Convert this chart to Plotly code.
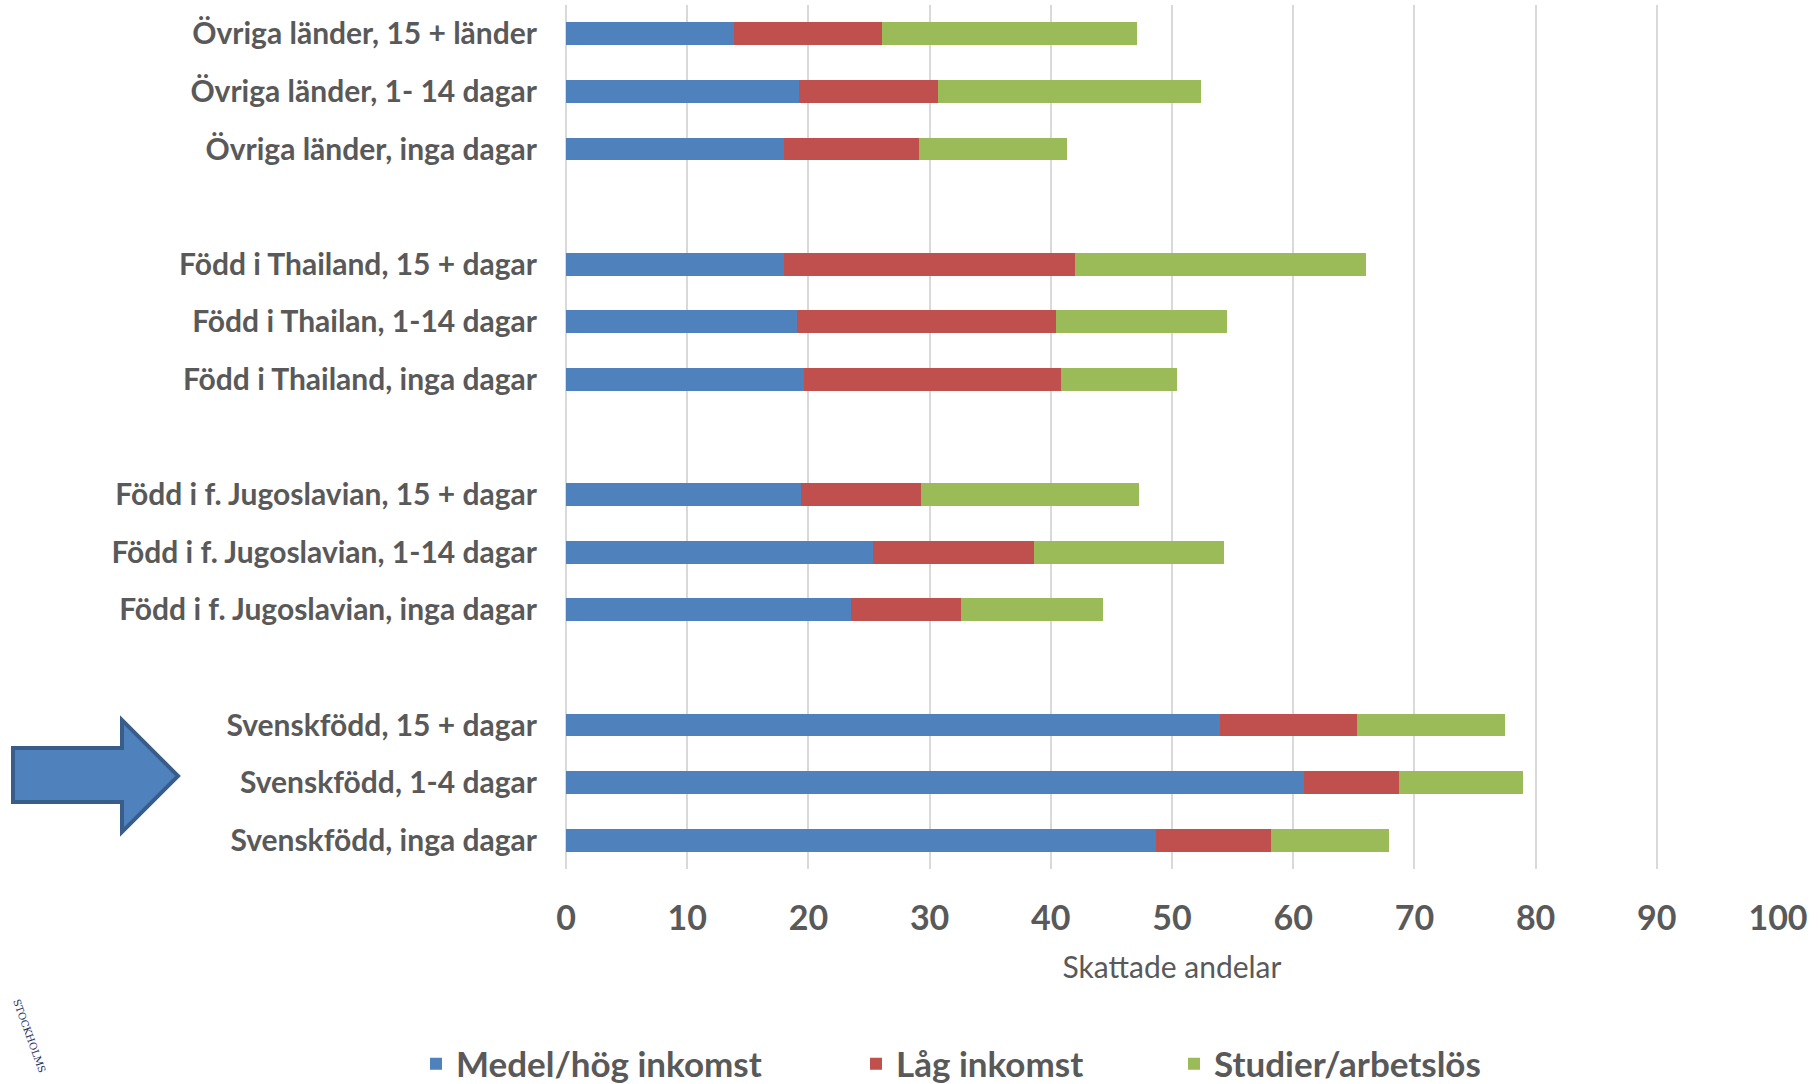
import plotly.graph_objects as go

categories = [
    "Övriga länder, 15 + länder",
    "Övriga länder, 1- 14 dagar",
    "Övriga länder, inga dagar",
    "Född i Thailand, 15 + dagar",
    "Född i Thailan, 1-14 dagar",
    "Född i Thailand, inga dagar",
    "Född i f. Jugoslavian, 15 + dagar",
    "Född i f. Jugoslavian, 1-14 dagar",
    "Född i f. Jugoslavian, inga dagar",
    "Svenskfödd, 15 + dagar",
    "Svenskfödd, 1-4 dagar",
    "Svenskfödd, inga dagar",
]
medel_hog = [13.9, 19.2, 18.0, 18.0, 19.1, 19.6, 19.4, 25.3, 23.5, 54.0, 60.9, 48.7]
lag = [12.2, 11.5, 11.1, 24.0, 21.3, 21.2, 9.9, 13.3, 9.1, 11.3, 7.8, 9.5]
studier = [21.0, 21.7, 12.2, 24.0, 14.1, 9.6, 18.0, 15.7, 11.7, 12.2, 10.3, 9.7]
series_names = ["Medel/hög inkomst", "Låg inkomst", "Studier/arbetslös"]
colors = ["#4F81BD", "#C0504D", "#9BBB59"]
x_ticks = [0, 10, 20, 30, 40, 50, 60, 70, 80, 90, 100]

# insert blank spacer rows between groups of three
y_cats, idx_map = [], []
for i, c in enumerate(categories):
    if i > 0 and i % 3 == 0:
        y_cats.append(" " * (i // 3))
        idx_map.append(None)
    y_cats.append(c)
    idx_map.append(i)

def expand(vals):
    return [None if k is None else vals[k] for k in idx_map]

W, H = 1820, 1084
ML, MR, MT, MB = 566, 42, 5, 215
PW, PH = W - ML - MR, H - MT - MB

fig = go.Figure()
legend_ids = ["legend", "legend2", "legend3"]
for name, vals, col, lg in zip(series_names, [medel_hog, lag, studier], colors, legend_ids):
    fig.add_trace(go.Bar(
        y=y_cats, x=expand(vals), name=name, orientation="h",
        marker=dict(color=col, line=dict(width=0)), legend=lg,
    ))

font_main = "Lato"
gray = "#595959"

def px2paper(px, py):
    return (px - ML) / PW, 1 - (py - MT) / PH

# arrow decoration (pixel outline of the reference arrow)
arrow_px = [(13, 748), (122, 748), (122, 720), (178, 776), (122, 832), (122, 802), (13, 802)]
pts = [px2paper(a, b) for a, b in arrow_px]
path = "M " + " L ".join(f"{a:.5f},{b:.5f}" for a, b in pts) + " Z"

legend_common = dict(
    orientation="h", xref="container", yref="container", yanchor="middle",
    xanchor="left", bgcolor="rgba(0,0,0,0)",
    font=dict(family=font_main, size=35, color=gray, weight="bold"),
    itemclick=False, itemdoubleclick=False, visible=True,
)
leg_y = 1 - 1064 / H
logo_x, logo_y = px2paper(30, 1036)

fig.update_layout(
    width=W, height=H, showlegend=True,
    margin=dict(l=ML, r=MR, t=MT, b=MB, autoexpand=False),
    barmode="stack", bargap=0.606,
    plot_bgcolor="white", paper_bgcolor="white",
    xaxis=dict(
        range=[0, 100], tickvals=x_ticks, showgrid=True, gridcolor="#D9D9D9", gridwidth=2,
        zeroline=True, zerolinecolor="#D9D9D9", zerolinewidth=2, showline=False,
        tickfont=dict(family=font_main, size=34, color=gray, weight="bold"),
        ticklabelstandoff=26,
        title=dict(text="Skattade andelar", font=dict(family=font_main, size=30, color=gray), standoff=20),
    ),
    yaxis=dict(
        autorange="reversed", showgrid=False, showline=False, zeroline=False,
        tickfont=dict(family=font_main, size=30, color=gray, weight="bold"),
        ticklabelstandoff=28, categoryorder="array", categoryarray=y_cats,
    ),
    legend=dict(x=416 / W, y=leg_y, **legend_common),
    legend2=dict(x=856 / W, y=leg_y, **legend_common),
    legend3=dict(x=1174 / W, y=leg_y, **legend_common),
    shapes=[dict(type="path", path=path, xref="paper", yref="paper",
                 fillcolor="#4F81BD", line=dict(color="#385D8A", width=4), layer="above")],
    annotations=[dict(text="STOCKHOLMS", xref="paper", yref="paper",
                      x=logo_x, y=logo_y, xanchor="center", yanchor="middle",
                      showarrow=False, textangle=70,
                      font=dict(family="DejaVu Serif", size=10, color="#1F2D5C"))],
)

fig.write_html(
    "out.html",
    config={"displayModeBar": False},
    post_script="document.body.style.margin='0';document.body.style.padding='0';",
)
